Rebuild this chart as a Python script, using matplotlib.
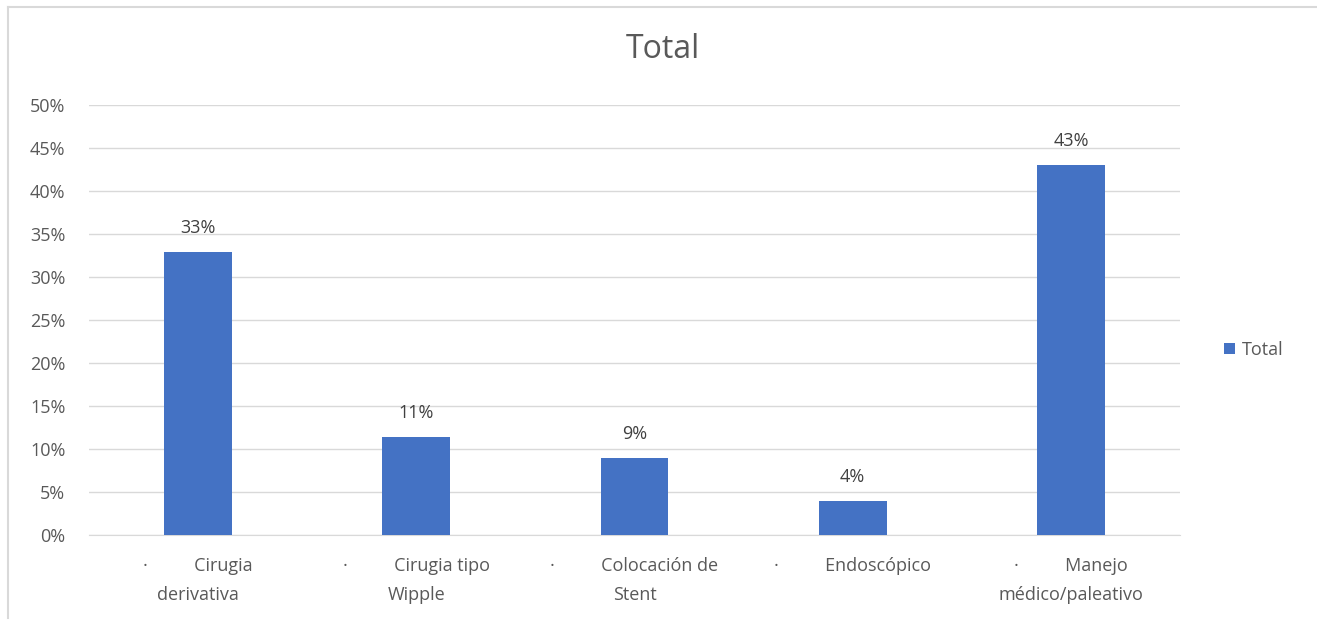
import matplotlib
matplotlib.use("Agg")
import matplotlib.pyplot as plt
from matplotlib.lines import Line2D

categories = ["·          Cirugia\nderivativa", "·          Cirugia tipo\nWipple", "·          Colocación de\nStent",
              "·          Endoscópico", "·          Manejo\nmédico/paleativo"]
values = [0.329, 0.114, 0.089, 0.039, 0.430]
labels = ["33%", "11%", "9%", "4%", "43%"]
yticks = [0, 0.05, 0.10, 0.15, 0.20, 0.25, 0.30, 0.35, 0.40, 0.45, 0.50]
ytick_labels = ["0%", "5%", "10%", "15%", "20%", "25%", "30%", "35%", "40%", "45%", "50%"]

plt.rcParams['font.family'] = ['Open Sans', 'DejaVu Sans']
txt = "#595959"
bar_color = "#4472C4"

fig = plt.figure(figsize=(13.17, 6.2), dpi=100)
ax = fig.add_axes([89/1317, 1 - 535/620, (1180 - 89)/1317, (535 - 105)/620])

x = range(len(categories))
ax.bar(x, values, width=0.31, color=bar_color, zorder=3, label="Total")
for xi, v, l in zip(x, values, labels):
    ax.annotate(l, (xi, v), xytext=(0, 11), textcoords="offset points",
                ha="center", va="bottom", fontsize=13, color="#404040")

ax.set_xlim(-0.5, len(categories) - 0.5)
ax.set_ylim(0, 0.5)
ax.set_yticks(yticks)
ax.set_yticklabels(ytick_labels, fontsize=13, color=txt)
ax.set_xticks(list(x))
ax.set_xticklabels(categories, fontsize=13, color=txt, linespacing=1.75)
ax.tick_params(axis="x", length=0, pad=16)
ax.tick_params(axis="y", length=0, pad=17)
ax.yaxis.grid(True, color="#d9d9d9", linewidth=1, zorder=0)
for s in ["top", "right", "left"]:
    ax.spines[s].set_visible(False)
ax.spines["bottom"].set_color("#d9d9d9")

fig.text(663/1317, 1 - 50/620, "Total", ha="center", va="center", fontsize=23, color=txt)

leg = fig.legend(loc="center left", bbox_to_anchor=(1208/1317, 1 - 350/620), frameon=False,
                 fontsize=13, handlelength=0.6, handleheight=0.6, handletextpad=0.4)
for t in leg.get_texts():
    t.set_color(txt)

fig.lines.append(Line2D([7.5/1317, 1], [1 - 6.5/620, 1 - 6.5/620], transform=fig.transFigure,
                        color="#d9d9d9", linewidth=1.5))
fig.lines.append(Line2D([7.5/1317, 7.5/1317], [1 - 6.5/620, 2/620], transform=fig.transFigure,
                        color="#d9d9d9", linewidth=1.5))

fig.savefig("out.png", dpi=100)
